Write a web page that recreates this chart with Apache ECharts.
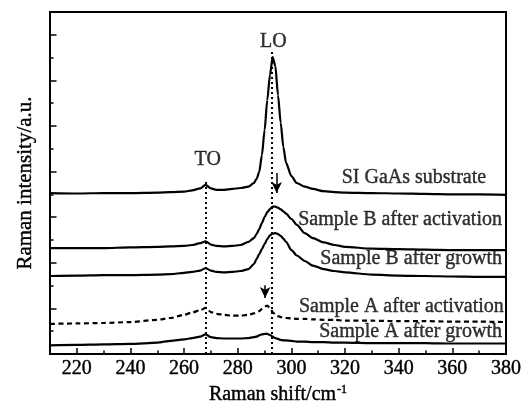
<!DOCTYPE html>
<html>
<head>
<meta charset="utf-8">
<script src="https://cdn.jsdelivr.net/npm/echarts@6/dist/echarts.min.js"></script>
<style>
  html, body { margin: 0; padding: 0; background: #fff; }
  #chart { width: 532px; height: 402px; }
</style>
</head>
<body>
<div id="chart"></div>
<script>
// Raman shift (cm^-1) sample positions shared by all spectra
const ramanShift = [210,220,230,240,250,255,260,263,266,268,270,272,275,278,281,284,286,287,288,289,290,291,292,293,294,295,296,297,298,300,302,305,308,312,316,320,330,340,350,360,370,380];

// Intensities (a.u., offset stacked)
const siSubstrate = [3.53,3.52,3.53,3.53,3.54,3.55,3.56,3.59,3.63,3.71,3.63,3.60,3.60,3.62,3.64,3.67,3.75,3.84,3.99,4.36,4.91,5.57,6.12,6.51,6.32,5.68,5.07,4.54,4.19,3.90,3.75,3.67,3.62,3.57,3.55,3.54,3.53,3.52,3.51,3.50,3.50,3.49];
const sampleBActivation = [2.32,2.32,2.32,2.34,2.35,2.36,2.37,2.39,2.43,2.47,2.40,2.37,2.36,2.37,2.39,2.46,2.54,2.63,2.74,2.87,3.00,3.11,3.18,3.23,3.23,3.21,3.17,3.13,3.08,2.96,2.83,2.65,2.54,2.45,2.39,2.35,2.31,2.30,2.29,2.28,2.28,2.28];
const sampleBGrowth = [1.71,1.72,1.73,1.73,1.74,1.75,1.78,1.80,1.83,1.88,1.83,1.80,1.79,1.80,1.82,1.86,1.97,2.08,2.19,2.30,2.41,2.52,2.60,2.64,2.65,2.63,2.59,2.53,2.46,2.28,2.16,2.04,1.94,1.86,1.82,1.79,1.74,1.72,1.71,1.70,1.69,1.69];
const sampleAActivation = [0.66,0.67,0.68,0.70,0.75,0.79,0.86,0.91,0.96,1.01,0.92,0.88,0.86,0.84,0.84,0.86,0.89,0.91,0.94,0.99,1.04,1.06,1.01,0.92,0.86,0.83,0.81,0.80,0.79,0.78,0.77,0.77,0.76,0.75,0.75,0.73,0.73,0.72,0.72,0.71,0.71,0.70];
const sampleAGrowth = [0.19,0.20,0.21,0.22,0.25,0.29,0.32,0.35,0.38,0.43,0.37,0.35,0.34,0.34,0.34,0.35,0.37,0.38,0.41,0.43,0.44,0.44,0.42,0.38,0.35,0.33,0.31,0.30,0.30,0.29,0.27,0.27,0.26,0.26,0.25,0.25,0.24,0.24,0.24,0.23,0.23,0.23];

// Curve captions (right-aligned ends)
const curveNames = ['SI GaAs substrate','Sample B after activation','Sample B after growth','Sample A after activation','Sample A after growth'];
const curveLabelX = [372.6, 378.5, 378.5, 379.2, 378.5];
const curveLabelY = [3.86, 2.94, 2.08, 1.04, 0.48];

// Phonon mode labels and guide lines
const modeNames = ['TO', 'LO'];
const modeShift = [268, 292.5];
const modeLineTop = [3.77, 6.65];
const modeLabelX = [268.8, 293.3];
const modeLabelY = [4.25, 6.85];

// Arrows: x, start y, end y
const arrowX = [294.5, 290.2];
const arrowFrom = [3.97, 1.51];
const arrowTo = [3.53, 1.23];

const FONT = 'Liberation Serif';
const zip = (xs, ys) => xs.map((x, i) => [x, ys[i]]);
const inkText = { textBorderColor: '#000', textBorderWidth: 0.4 };

const curveLine = (data, type) => ({
  type: 'line',
  data: data,
  showSymbol: false,
  symbol: 'none',
  smooth: 0.25,
  smoothMonotone: 'x',
  silent: true,
  lineStyle: { color: '#000', width: 2.2, type: type || 'solid' },
  z: 3
});

const chart = echarts.init(document.getElementById('chart'), null, { renderer: 'canvas' });

const series = [
  curveLine(zip(ramanShift, siSubstrate)),
  curveLine(zip(ramanShift, sampleBActivation)),
  curveLine(zip(ramanShift, sampleBGrowth)),
  curveLine(zip(ramanShift, sampleAActivation), [5, 3.5]),
  curveLine(zip(ramanShift, sampleAGrowth)),
  {
    type: 'line',
    data: [],
    silent: true,
    markLine: {
      silent: true,
      animation: false,
      symbol: 'none',
      label: { show: false },
      lineStyle: { color: '#000', width: 2, type: [2, 3] },
      emphasis: { disabled: true },
      data: modeShift.map((x, i) => [{ coord: [x, 0] }, { coord: [x, modeLineTop[i]] }])
    }
  },
  {
    type: 'line',
    data: [],
    silent: true,
    markLine: {
      silent: true,
      animation: false,
      symbol: ['none', 'arrow'],
      symbolSize: [8, 11],
      label: { show: false },
      lineStyle: { color: '#000', width: 1.5, type: 'solid' },
      emphasis: { disabled: true },
      data: arrowX.map((x, i) => [{ coord: [x, arrowFrom[i]] }, { coord: [x, arrowTo[i]] }])
    }
  },
  {
    type: 'scatter',
    silent: true,
    symbolSize: 0,
    itemStyle: { color: 'transparent' },
    label: Object.assign({
      show: true,
      position: 'left',
      distance: 0,
      color: '#000',
      fontFamily: FONT,
      fontSize: 20,
      formatter: p => p.name
    }, inkText),
    data: curveNames.map((n, i) => ({ name: n, value: [curveLabelX[i], curveLabelY[i]] })),
    z: 5
  },
  {
    type: 'scatter',
    silent: true,
    symbolSize: 0,
    itemStyle: { color: 'transparent' },
    label: Object.assign({
      show: true,
      position: 'inside',
      color: '#000',
      fontFamily: FONT,
      fontSize: 20,
      formatter: p => p.name
    }, inkText),
    data: modeNames.map((n, i) => ({ name: n, value: [modeLabelX[i], modeLabelY[i]] })),
    z: 5
  }
];

chart.setOption({
  animation: false,
  backgroundColor: '#fff',
  textStyle: { fontFamily: FONT, color: '#000' },
  grid: {
    left: 50, right: 26, top: 12, bottom: 48,
    outerBoundsMode: 'none', containLabel: false,
    show: true, borderColor: '#000', borderWidth: 2, backgroundColor: 'transparent'
  },
  xAxis: [
    {
      type: 'value', position: 'bottom', min: 210, max: 380,
      splitNumber: 8, minInterval: 20, maxInterval: 20,
      axisLine: { show: true, lineStyle: { color: '#000', width: 2 } },
      axisTick: { show: true, inside: true, length: 6, lineStyle: { color: '#000', width: 1.5 } },
      axisLabel: Object.assign({
        show: true, margin: 5, color: '#000', fontFamily: FONT, fontSize: 20,
        formatter: v => (v % 20 === 0 ? String(v) : '')
      }, inkText),
      splitLine: { show: false },
      name: '{a|Raman shift/cm}{s|-1}',
      nameLocation: 'middle',
      nameGap: 22,
      nameTextStyle: {
        rich: {
          a: Object.assign({ fontFamily: FONT, fontSize: 20, color: '#000' }, inkText),
          s: Object.assign({ fontFamily: FONT, fontSize: 12, color: '#000', padding: [0, 0, 9, 1] }, inkText)
        }
      }
    },
    {
      type: 'value', position: 'bottom', min: 210, max: 380, interval: 10,
      axisLine: { show: false },
      axisTick: { show: true, inside: true, length: 3.5, lineStyle: { color: '#000', width: 1.5 } },
      axisLabel: { show: false },
      splitLine: { show: false }
    }
  ],
  yAxis: [
    {
      type: 'value', position: 'left', min: 0, max: 7.5, interval: 1,
      axisLine: { show: true, lineStyle: { color: '#000', width: 2 } },
      axisTick: { show: true, inside: true, length: 6.5, lineStyle: { color: '#000', width: 1.5 } },
      axisLabel: { show: false },
      splitLine: { show: false },
      name: 'Raman intensity/a.u.',
      nameLocation: 'middle',
      nameGap: 14,
      nameTextStyle: Object.assign({ fontFamily: FONT, fontSize: 21, color: '#000' }, inkText)
    },
    {
      type: 'value', position: 'left', min: 0, max: 7.5, interval: 0.5,
      axisLine: { show: false },
      axisTick: { show: true, inside: true, length: 3.5, lineStyle: { color: '#000', width: 1.5 } },
      axisLabel: { show: false },
      splitLine: { show: false }
    }
  ],
  series: series
});
</script>
</body>
</html>
